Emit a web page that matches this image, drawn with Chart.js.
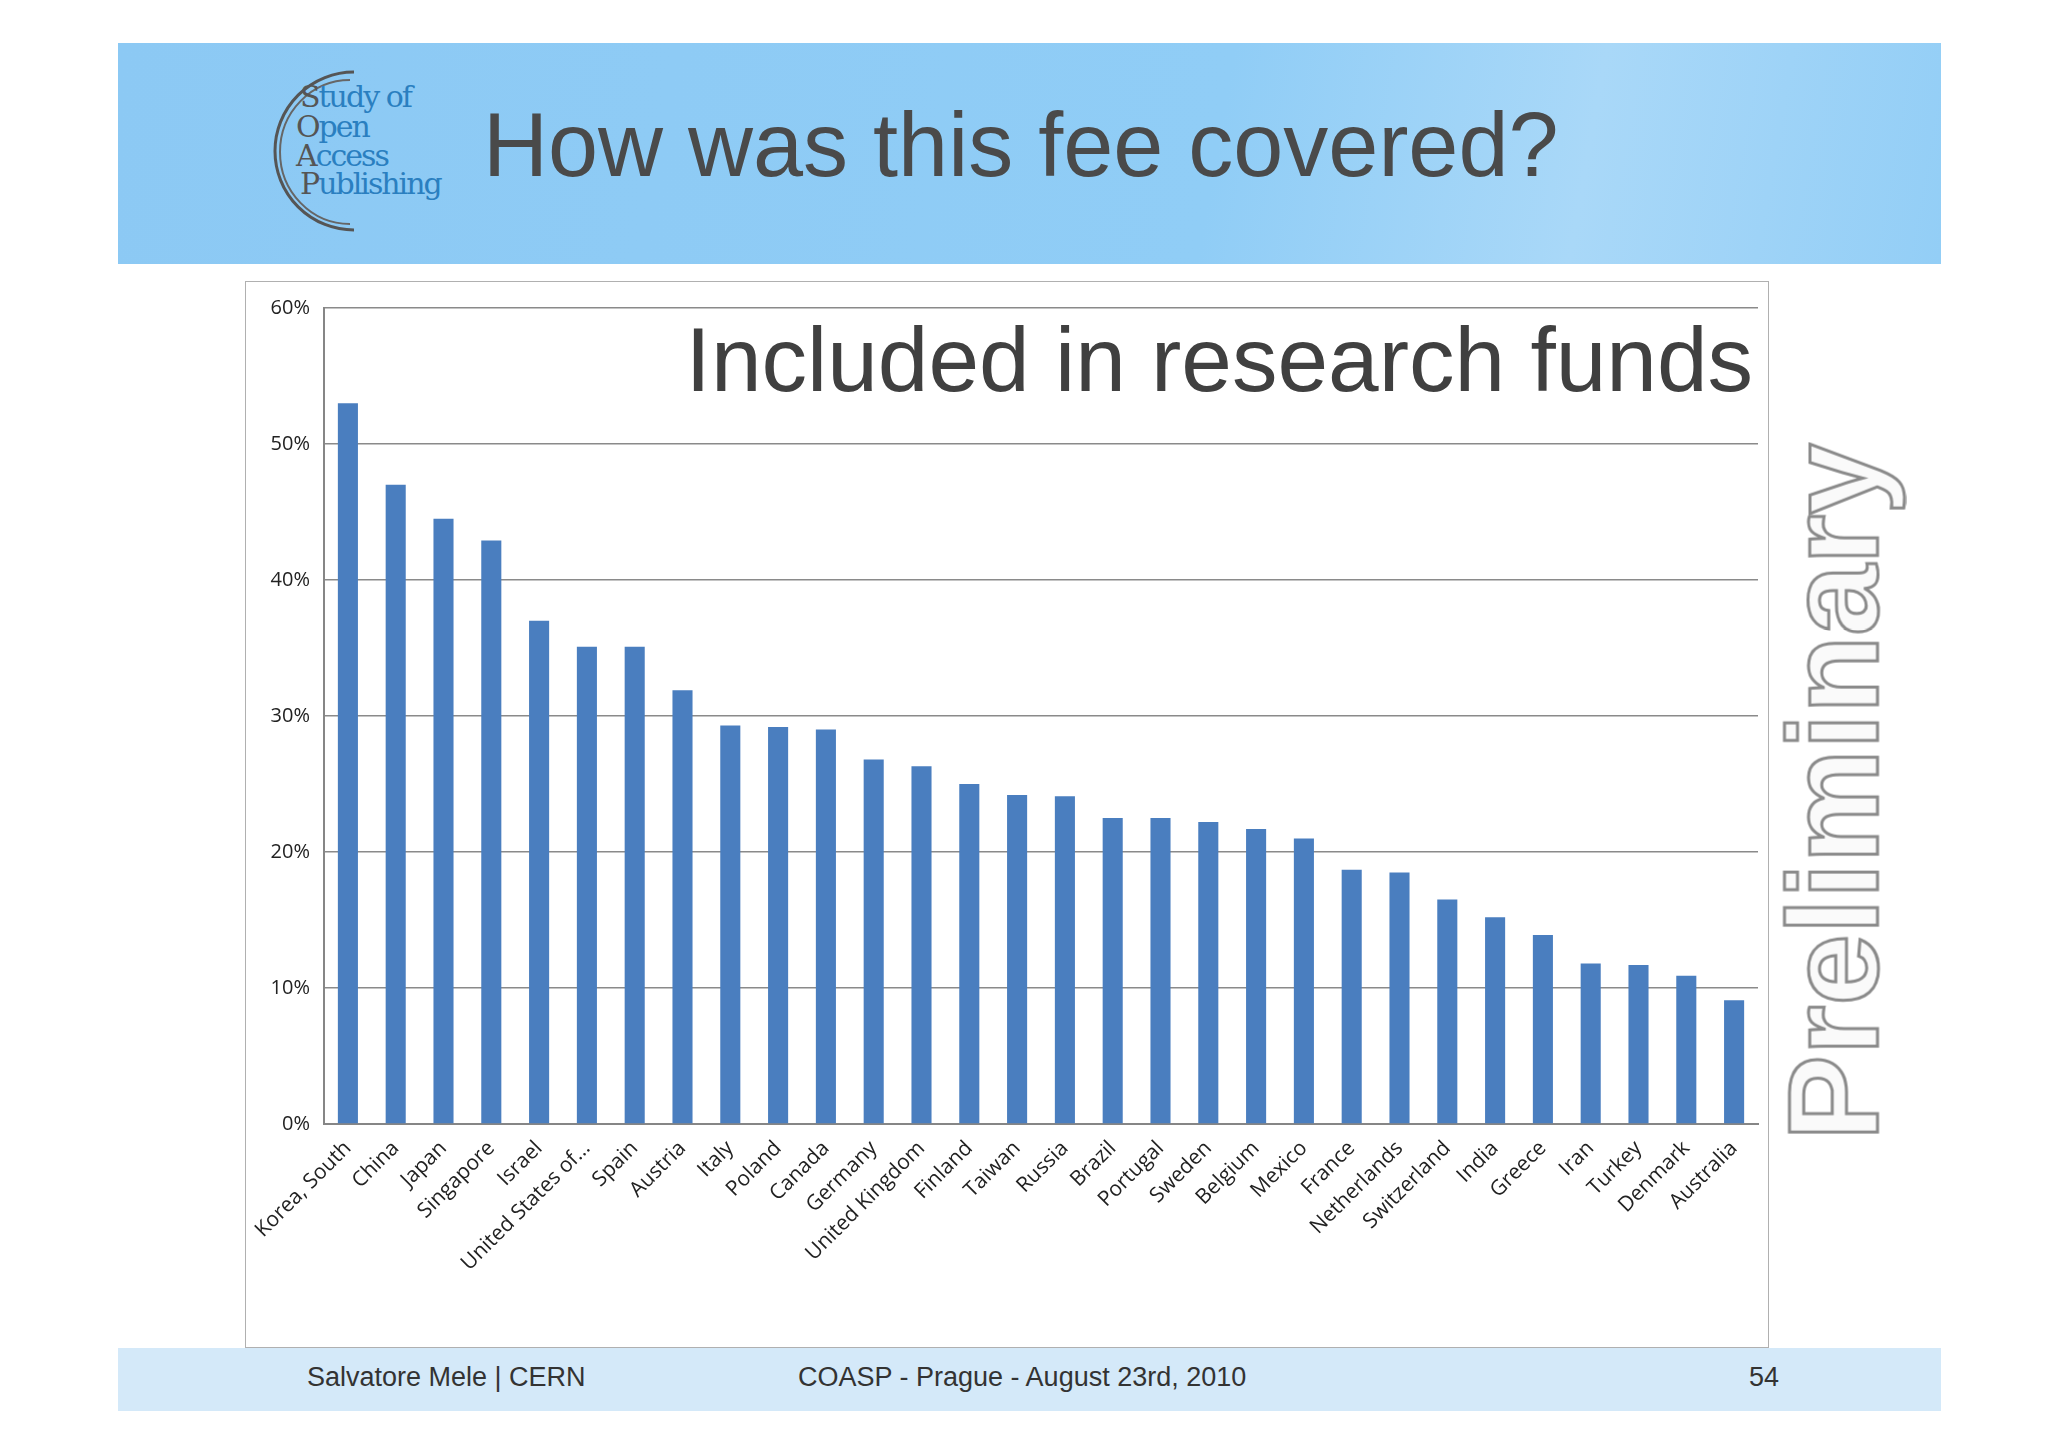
<!DOCTYPE html>
<html>
<head>
<meta charset="utf-8">
<script src="https://cdn.jsdelivr.net/npm/chart.js@4/dist/chart.umd.min.js"></script>
<style>
  html, body { margin: 0; padding: 0; background: #fff; }
  body { width: 2048px; height: 1447px; position: relative; overflow: hidden; font-family: "Liberation Sans", Arial, sans-serif; }
  #header { position: absolute; left: 118px; top: 43px; width: 1823px; height: 221px;
    background: linear-gradient(100deg, #8cc9f4 0%, #90cdf6 60%, #a9d8f8 80%, #93cef6 100%); }
  #title { position: absolute; left: 483px; top: 94px; font-size: 90px; color: #4a4a4a; white-space: nowrap; }
  #logo { position: absolute; left: 258px; top: 62px; }
  #box { position: absolute; left: 245px; top: 281px; width: 1524px; height: 1067px; border: 1.5px solid #b0b0b0; box-sizing: border-box; }
  #box canvas { position: absolute; left: 0; top: 0; }
  #subtitle { position: absolute; right: 295px; top: 308px; font-size: 91px; color: #404040; white-space: nowrap; }
  #prelim { position: absolute; left: 1833px; top: 792px; transform: translate(-50%, -50%) rotate(-90deg);
    font-size: 128px; color: #fafafa; -webkit-text-stroke: 3px #8a8a8a; white-space: nowrap; font-weight: bold; }
  #footer { position: absolute; left: 118px; top: 1348px; width: 1823px; height: 63px; background: #d4e9f9; font-size: 27px; color: #333; }
  #footer span { position: absolute; top: 14px; }
</style>
</head>
<body>
<div id="header"></div>
<svg id="logo" width="190" height="180" viewBox="0 0 190 180">
  <path d="M 96 10 A 78 78 0 1 0 96 168" fill="none" stroke="#555" stroke-width="3"/>
  <path d="M 92 18 A 70 72 0 1 0 92 162" fill="none" stroke="#666" stroke-width="2"/>
  <g font-family="'DejaVu Serif', 'Liberation Serif', serif" font-size="30" fill="#2a7fc0">
    <text x="42" y="45" letter-spacing="-2"><tspan fill="#555">S</tspan>tudy of</text>
    <text x="38" y="75" letter-spacing="-2"><tspan fill="#555">O</tspan>pen</text>
    <text x="38" y="104" letter-spacing="-2"><tspan fill="#555">A</tspan>ccess</text>
    <text x="42" y="132" letter-spacing="-2"><tspan fill="#555">P</tspan>ublishing</text>
  </g>
</svg>
<div id="title">How was this fee covered?</div>
<div id="box"><canvas id="c" width="1521" height="1064"></canvas></div>
<div id="subtitle">Included in research funds</div>
<div id="prelim">Preliminary</div>
<div id="footer">
  <span style="left:189px">Salvatore Mele | CERN</span>
  <span style="left:680px">COASP - Prague - August 23rd, 2010</span>
  <span style="right:162px">54</span>
</div>
<script>
const countries = ["Korea, South", "China", "Japan", "Singapore", "Israel", "United States of…", "Spain", "Austria",
  "Italy", "Poland", "Canada", "Germany", "United Kingdom", "Finland", "Taiwan", "Russia", "Brazil", "Portugal",
  "Sweden", "Belgium", "Mexico", "France", "Netherlands", "Switzerland", "India", "Greece", "Iran", "Turkey",
  "Denmark", "Australia"];
const shares = [53.0, 47.0, 44.5, 42.9, 37.0, 35.1, 35.1, 31.9, 29.3, 29.2, 29.0, 26.8, 26.3, 25.0, 24.2, 24.1,
  22.5, 22.5, 22.2, 21.7, 21.0, 18.7, 18.5, 16.5, 15.2, 13.9, 11.8, 11.7, 10.9, 9.1];
const yTicks = [0, 10, 20, 30, 40, 50, 60];

new Chart(document.getElementById("c"), {
  type: "bar",
  data: { labels: countries, datasets: [{ data: shares, backgroundColor: "#4a7ebf", categoryPercentage: 1, barPercentage: 0.42 }] },
  options: {
    responsive: false, animation: false,
    layout: { padding: { left: 0, right: 9, top: 22, bottom: 0 } },
    plugins: { legend: { display: false }, tooltip: { enabled: false } },
    scales: {
      x: {
        grid: { display: false },
        border: { color: "#868686", width: 2 },
        ticks: { color: "#222", font: { family: "'Open Sans', sans-serif", size: 21 }, minRotation: 45, maxRotation: 45, autoSkip: false, padding: 4 },
        afterFit: (s) => { s.height = 222; },
      },
      y: {
        min: 0, max: 60,
        afterBuildTicks: (s) => { s.ticks = yTicks.map((v) => ({ value: v })); },
        grid: { color: "#8a8a8a", lineWidth: 1.5, drawTicks: false },
        border: { color: "#868686", width: 2 },
        ticks: { color: "#222", font: { family: "'Open Sans', sans-serif", size: 20 }, padding: 14, callback: (v) => v + "%" },
        afterFit: (s) => { s.width = 78; },
      },
    },
  },
});
</script>
</body>
</html>
